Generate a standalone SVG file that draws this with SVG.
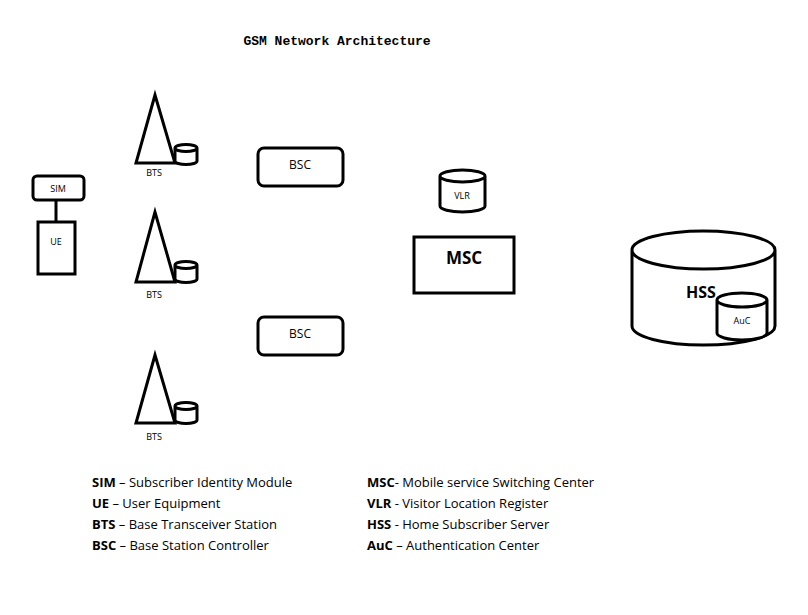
<svg xmlns="http://www.w3.org/2000/svg" width="808" height="615" viewBox="0 0 808 615">
<style>
.s{fill:#fff;stroke:#000;stroke-width:3}
.t{font-family:"Open Sans","Liberation Sans",sans-serif;font-size:12px;text-anchor:middle}
.sm{font-family:"Open Sans","Liberation Sans",sans-serif;font-size:9px;text-anchor:middle}
.l{font-family:"Open Sans","Liberation Sans",sans-serif;font-size:13px}
.b{font-weight:bold}
</style>
<rect width="808" height="615" fill="#fff"/>
<text x="337" y="45" font-family="Liberation Mono,monospace" font-weight="bold" font-size="13" text-anchor="middle">GSM Network Architecture</text>
<g id="connectors"><line x1="56" y1="200" x2="56" y2="222" stroke="#000" stroke-width="3"/></g>
<g id="sim"><rect class="s" x="33" y="176" width="51" height="24" rx="4"/><text class="sm" x="58" y="192">SIM</text></g>
<g id="ue"><rect class="s" x="38" y="222" width="37" height="52"/><text class="sm" x="56" y="245">UE</text></g>
<g id="bts1"><polygon class="s" points="155,95 136,163 175,163"/><path class="s" d="M175,148 v13 a11,3.5 0 0 0 22,0 v-13 a11,3.5 0 0 0 -22,0 a11,3.5 0 0 0 22,0"/><text class="sm" x="154" y="176">BTS</text></g>
<g id="bts2"><polygon class="s" points="155,212 136,282 175,282"/><path class="s" d="M175,265 v14 a11,3.5 0 0 0 22,0 v-14 a11,3.5 0 0 0 -22,0 a11,3.5 0 0 0 22,0"/><text class="sm" x="154" y="298">BTS</text></g>
<g id="bts3"><polygon class="s" points="155,355 136,423 175,423"/><path class="s" d="M175,406 v14 a11,3.5 0 0 0 22,0 v-14 a11,3.5 0 0 0 -22,0 a11,3.5 0 0 0 22,0"/><text class="sm" x="154" y="440">BTS</text></g>
<g id="bsc1"><rect class="s" x="258" y="148" width="85" height="38" rx="6"/><text class="t" x="300" y="169">BSC</text></g>
<g id="bsc2"><rect class="s" x="258" y="317" width="85" height="38" rx="6"/><text class="t" x="300" y="338">BSC</text></g>
<g id="vlr"><path class="s" d="M440,176 v30 a22.5,6 0 0 0 45,0 v-30 a22.5,6 0 0 0 -45,0 a22.5,6 0 0 0 45,0"/><text class="sm" x="462" y="199">VLR</text></g>
<g id="msc"><rect class="s" x="414" y="237" width="100" height="56"/><text x="464" y="264" font-family="Open Sans,Liberation Sans,sans-serif" font-weight="bold" font-size="17" text-anchor="middle">MSC</text></g>
<g id="hss"><path class="s" d="M632,250 v76 a71.5,19 0 0 0 143,0 v-76 a71.5,19 0 0 0 -143,0 a71.5,19 0 0 0 143,0"/><text x="701" y="298" font-family="Open Sans,Liberation Sans,sans-serif" font-weight="bold" font-size="16" text-anchor="middle">HSS</text></g>
<g id="auc"><path class="s" d="M717,300 v33 a25,7 0 0 0 50,0 v-33 a25,7 0 0 0 -50,0 a25,7 0 0 0 50,0"/><text class="sm" x="742" y="324">AuC</text></g>
<g id="legend">
<text class="l" x="92" y="487"><tspan class="b">SIM</tspan> – Subscriber Identity Module</text>
<text class="l" x="92" y="508"><tspan class="b">UE</tspan> – User Equipment</text>
<text class="l" x="92" y="529"><tspan class="b">BTS</tspan> – Base Transceiver Station</text>
<text class="l" x="92" y="550"><tspan class="b">BSC</tspan> – Base Station Controller</text>
<text class="l" x="367" y="487"><tspan class="b">MSC</tspan>- Mobile service Switching Center</text>
<text class="l" x="367" y="508"><tspan class="b">VLR</tspan> - Visitor Location Register</text>
<text class="l" x="367" y="529"><tspan class="b">HSS</tspan> - Home Subscriber Server</text>
<text class="l" x="367" y="550"><tspan class="b">AuC</tspan> – Authentication Center</text>
</g>
</svg>
